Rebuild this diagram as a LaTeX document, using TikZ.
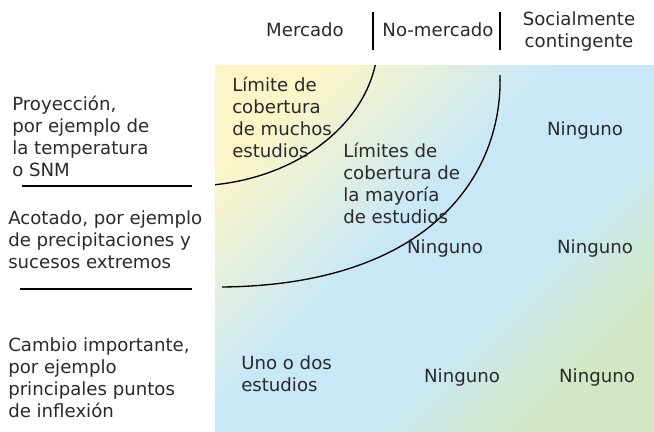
\documentclass[tikz,border=0pt]{standalone}
\usepackage{fontspec}
\setmainfont{DejaVu Sans}
\definecolor{textgray}{HTML}{2A2A2A}
\definecolor{gyellow}{HTML}{FCF6C6}
\definecolor{gblue}{HTML}{C8E8F8}
\definecolor{ggreen}{HTML}{D2E8C4}
\pgfdeclareverticalshading{fieldshade}{100bp}{color(0bp)=(ggreen); color(26bp)=(ggreen); color(41bp)=(gblue); color(55bp)=(gblue); color(76bp)=(gyellow); color(100bp)=(gyellow)}
\begin{document}
\begin{tikzpicture}[x=0.75pt,y=-0.75pt,
  txt/.style={text=textgray,inner sep=0pt,font=\fontsize{13.6}{16.5}\selectfont},
  blk/.style={txt,align=left,anchor=west},
  rule/.style={line width=1.3pt,black},
  curve/.style={line width=1pt,black}]
\useasboundingbox (0,0) rectangle (654,432);
% gradient field
\shade[shading=fieldshade,shading angle=45] (215,65) rectangle (654,432);
% header
\node[txt] (mkt) at (305,30) {Mercado};
\node[txt] (nmkt) at (438,30) {No-mercado};
\node[txt,align=center] (soc) at (579,31) {Socialmente\\contingente};
\coordinate (v1a) at (373,12); \coordinate (v1b) at (373,50);
\coordinate (v2a) at (500,12); \coordinate (v2b) at (500,50);
\draw[rule] (v1a) -- (v1b);
\draw[rule] (v2a) -- (v2b);
% left labels
\node[blk] (proj) at (12,136) {Proyección,\\por ejemplo de\\la temperatura\\o SNM};
\node[blk] (acot) at (8,240) {Acotado, por ejemplo\\de precipitaciones y\\sucesos extremos};
\node[blk] (camb) at (8,378) {Cambio importante,\\por ejemplo\\principales puntos\\de inflexión};
\coordinate (h1a) at (22,186); \coordinate (h1b) at (192,186);
\coordinate (h2a) at (20,289); \coordinate (h2b) at (192,289);
\draw[rule] (h1a) -- (h1b);
\draw[rule] (h2a) -- (h2b);
% arcs
\begin{scope}
  \clip (215,65) rectangle (654,432);
  \draw[curve] (190,40) ellipse [x radius=141pt, y radius=109.5pt];
\end{scope}
\coordinate (c2a) at (500,75); \coordinate (c2b) at (222,287);
\draw[curve] (c2a) .. controls (503,175) and (430,285) .. (c2b);
% cell texts
\node[blk] (lim1) at (232,117) {Límite de\\cobertura\\de muchos\\estudios};
\node[blk] (lim2) at (343,183) {Límites de\\cobertura de\\la mayoría\\de estudios};
\node[blk] (uno) at (241,374) {Uno o dos\\estudios};
\node[txt] (n1) at (585,130) {Ninguno};
\node[txt] (n2) at (445,248) {Ninguno};
\node[txt] (n3) at (595,248) {Ninguno};
\node[txt] (n4) at (462,377) {Ninguno};
\node[txt] (n5) at (597,377) {Ninguno};
\end{tikzpicture}
\end{document}
